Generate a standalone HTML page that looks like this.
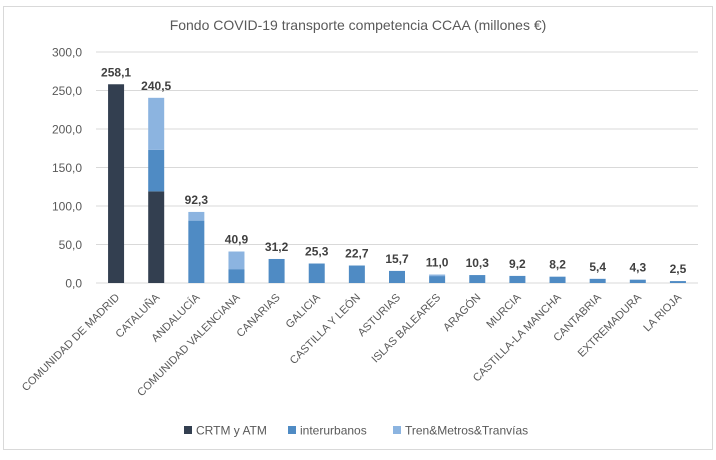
<!DOCTYPE html>
<html><head><meta charset="utf-8"><style>
body{margin:0;background:#fff;font-family:"Liberation Sans",sans-serif}
svg text{font-family:"Liberation Sans",sans-serif}
</style></head><body>
<svg id="chart" width="716" height="455" xmlns="http://www.w3.org/2000/svg">
<rect x="3.5" y="6.5" width="709" height="443" fill="#fff" stroke="#d9d9d9"/>
<text x="358" y="30" text-anchor="middle" font-size="14" fill="#595959">Fondo COVID-19 transporte competencia CCAA (millones €)</text>
<g id="grid"></g><g id="bars"></g><g id="labels"></g>
<g>
<rect x="184" y="426" width="8" height="8" fill="#333f50"/>
<text x="196" y="434.5" font-size="12" fill="#595959">CRTM y ATM</text>
<rect x="288" y="426" width="8" height="8" fill="#4f8bc4"/>
<text x="300" y="434.5" font-size="12" fill="#595959">interurbanos</text>
<rect x="393" y="426" width="8" height="8" fill="#8cb4e0"/>
<text x="405" y="434.5" font-size="12" fill="#595959">Tren&amp;Metros&amp;Tranvías</text>
</g>
</svg>
<script>
const categories=["COMUNIDAD DE MADRID","CATALUÑA","ANDALUCÍA","COMUNIDAD VALENCIANA","CANARIAS","GALICIA","CASTILLA Y LEÓN","ASTURIAS","ISLAS BALEARES","ARAGÓN","MURCIA","CASTILLA-LA MANCHA","CANTABRIA","EXTREMADURA","LA RIOJA"];
const crtm=[258.1,119,0,0,0,0,0,0,0,0,0,0,0,0,0];
const interurbanos=[0,54,81,18,31.2,25.3,22.7,15.7,9,10.3,9.2,8.2,5.4,4.3,2.5];
const tren=[0,67.5,11.3,22.9,0,0,0,0,2,0,0,0,0,0,0];
const totals=["258,1","240,5","92,3","40,9","31,2","25,3","22,7","15,7","11,0","10,3","9,2","8,2","5,4","4,3","2,5"];
const yTicks=[0,50,100,150,200,250,300];
const NS="http://www.w3.org/2000/svg";
const x0=96,x1=698,yBase=283,yTop=52,yMax=300;
const band=(x1-x0)/categories.length;
const y=v=>yBase-(v/yMax)*(yBase-yTop);
const xc=i=>x0+band*(i+0.5);
const grid=document.getElementById('grid'),bars=document.getElementById('bars'),labels=document.getElementById('labels');
function mk(tag,attrs,parent){const e=document.createElementNS(NS,tag);for(const k in attrs)e.setAttribute(k,attrs[k]);parent.appendChild(e);return e;}
yTicks.forEach(t=>{
 const l=mk('line',{x1:x0,x2:x1,y1:y(t),y2:y(t),stroke:'#d9d9d9','stroke-width':1},grid);
 
 
 const tx=mk('text',{x:x0-14,y:y(t)+4.5,'text-anchor':'end','font-size':12,fill:'#595959'},grid);
 tx.textContent=t.toFixed(1).replace('.',',');
 
 
});
const series=[[crtm,'#333f50','crtm'],[interurbanos,'#4f8bc4','interurbanos'],[tren,'#8cb4e0','tren']];
const bw=16;
categories.forEach((c,i)=>{
 let acc=0;
 series.forEach(([arr,col,nm])=>{
  const v=arr[i]; if(v<=0)return;
  const r=mk('rect',{x:xc(i)-bw/2,y:y(acc+v),width:bw,height:y(acc)-y(acc+v),fill:col},bars);
  
  
  acc+=v;
 });
 const lt=mk('text',{x:xc(i),y:y(acc)-8,'text-anchor':'middle','font-size':12,'font-weight':'bold',fill:'#404040'},labels);
 lt.textContent=totals[i];
 
 
 const ct=mk('text',{x:xc(i)+4,y:298,'text-anchor':'end','font-size':11,fill:'#595959',transform:`rotate(-45 ${xc(i)+4} 298)`},labels);
 ct.textContent=c;
 
 
});
</script>
</body></html>
